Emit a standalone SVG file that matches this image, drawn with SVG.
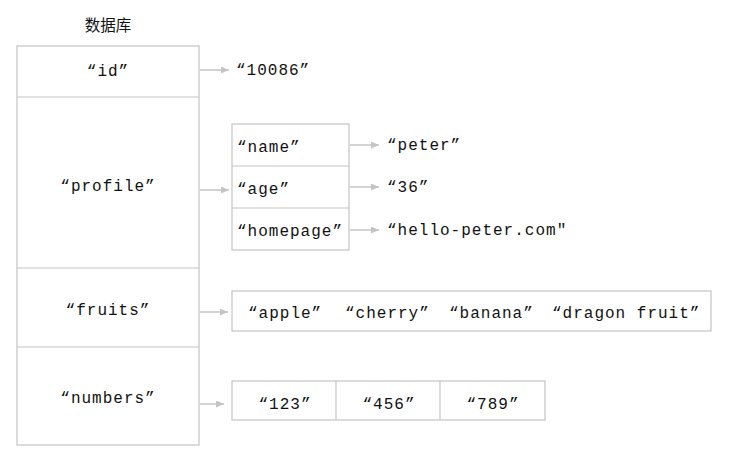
<svg xmlns="http://www.w3.org/2000/svg" width="734" height="461" viewBox="0 0 734 461">
<defs>
<style>
.box{fill:#fff;stroke:#c4c4c4;stroke-width:1.2}
.t{font-family:"Liberation Mono","Courier New",monospace;font-size:16px;letter-spacing:1px;fill:#111}
.c{text-anchor:middle}
.title{font-family:"Liberation Sans","Noto Sans CJK SC",sans-serif;font-size:15.5px;fill:#111;text-anchor:middle}
.ln{stroke:#c4c4c4;stroke-width:1.5;fill:none;marker-end:url(#ah)}
</style>
<marker id="ah" viewBox="0 0 10 10" refX="10" refY="5" markerWidth="8" markerHeight="7" markerUnits="userSpaceOnUse" orient="auto" preserveAspectRatio="none">
<path d="M0,0 L10,5 L0,10 z" fill="#c4c4c4"/>
</marker>
</defs>
<rect width="734" height="461" fill="#fff"/>
<text class="title" x="108" y="31">数据库</text>
<g id="db">
<rect class="box" x="17" y="46" width="182" height="399"/>
<line class="box" x1="17" y1="97" x2="199" y2="97"/>
<line class="box" x1="17" y1="268" x2="199" y2="268"/>
<line class="box" x1="17" y1="347" x2="199" y2="347"/>
<text class="t c" x="108" y="76">“id”</text>
<text class="t c" x="108" y="191">“profile”</text>
<text class="t c" x="108" y="315">“fruits”</text>
<text class="t c" x="108" y="403">“numbers”</text>
</g>
<g id="v-id"><text class="t" x="236" y="75">“10086”</text></g>
<g id="profile">
<rect class="box" x="232" y="124" width="117" height="126"/>
<line class="box" x1="232" y1="166" x2="349" y2="166"/>
<line class="box" x1="232" y1="208" x2="349" y2="208"/>
<text class="t" x="237" y="152">“name”</text>
<text class="t" x="237" y="194">“age”</text>
<text class="t" x="237" y="236">“homepage”</text>
</g>
<g id="v-name"><text class="t" x="387" y="150">“peter”</text></g>
<g id="v-age"><text class="t" x="387" y="192">“36”</text></g>
<g id="v-home"><text class="t" x="387" y="235">“hello-peter.com"</text></g>
<g id="fruits">
<rect class="box" x="232" y="291" width="479" height="40"/>
<text class="t" x="248" y="318">“apple”</text>
<text class="t" x="345" y="318">“cherry”</text>
<text class="t" x="449" y="318">“banana”</text>
<text class="t" x="552" y="318">“dragon fruit”</text>
</g>
<g id="numbers">
<rect class="box" x="232" y="381" width="313" height="39"/>
<line class="box" x1="336" y1="381" x2="336" y2="420"/>
<line class="box" x1="440" y1="381" x2="440" y2="420"/>
<text class="t c" x="285" y="409">“123”</text>
<text class="t c" x="389" y="409">“456”</text>
<text class="t c" x="493" y="409">“789”</text>
</g>
<g id="connectors">
<line class="ln" x1="200" y1="70" x2="229" y2="70"/>
<line class="ln" x1="200" y1="190" x2="229" y2="190"/>
<line class="ln" x1="350" y1="145" x2="379" y2="145"/>
<line class="ln" x1="350" y1="187" x2="379" y2="187"/>
<line class="ln" x1="350" y1="230" x2="379" y2="230"/>
<line class="ln" x1="200" y1="312" x2="228" y2="312"/>
<line class="ln" x1="200" y1="404" x2="224" y2="404"/>
</g>
</svg>
